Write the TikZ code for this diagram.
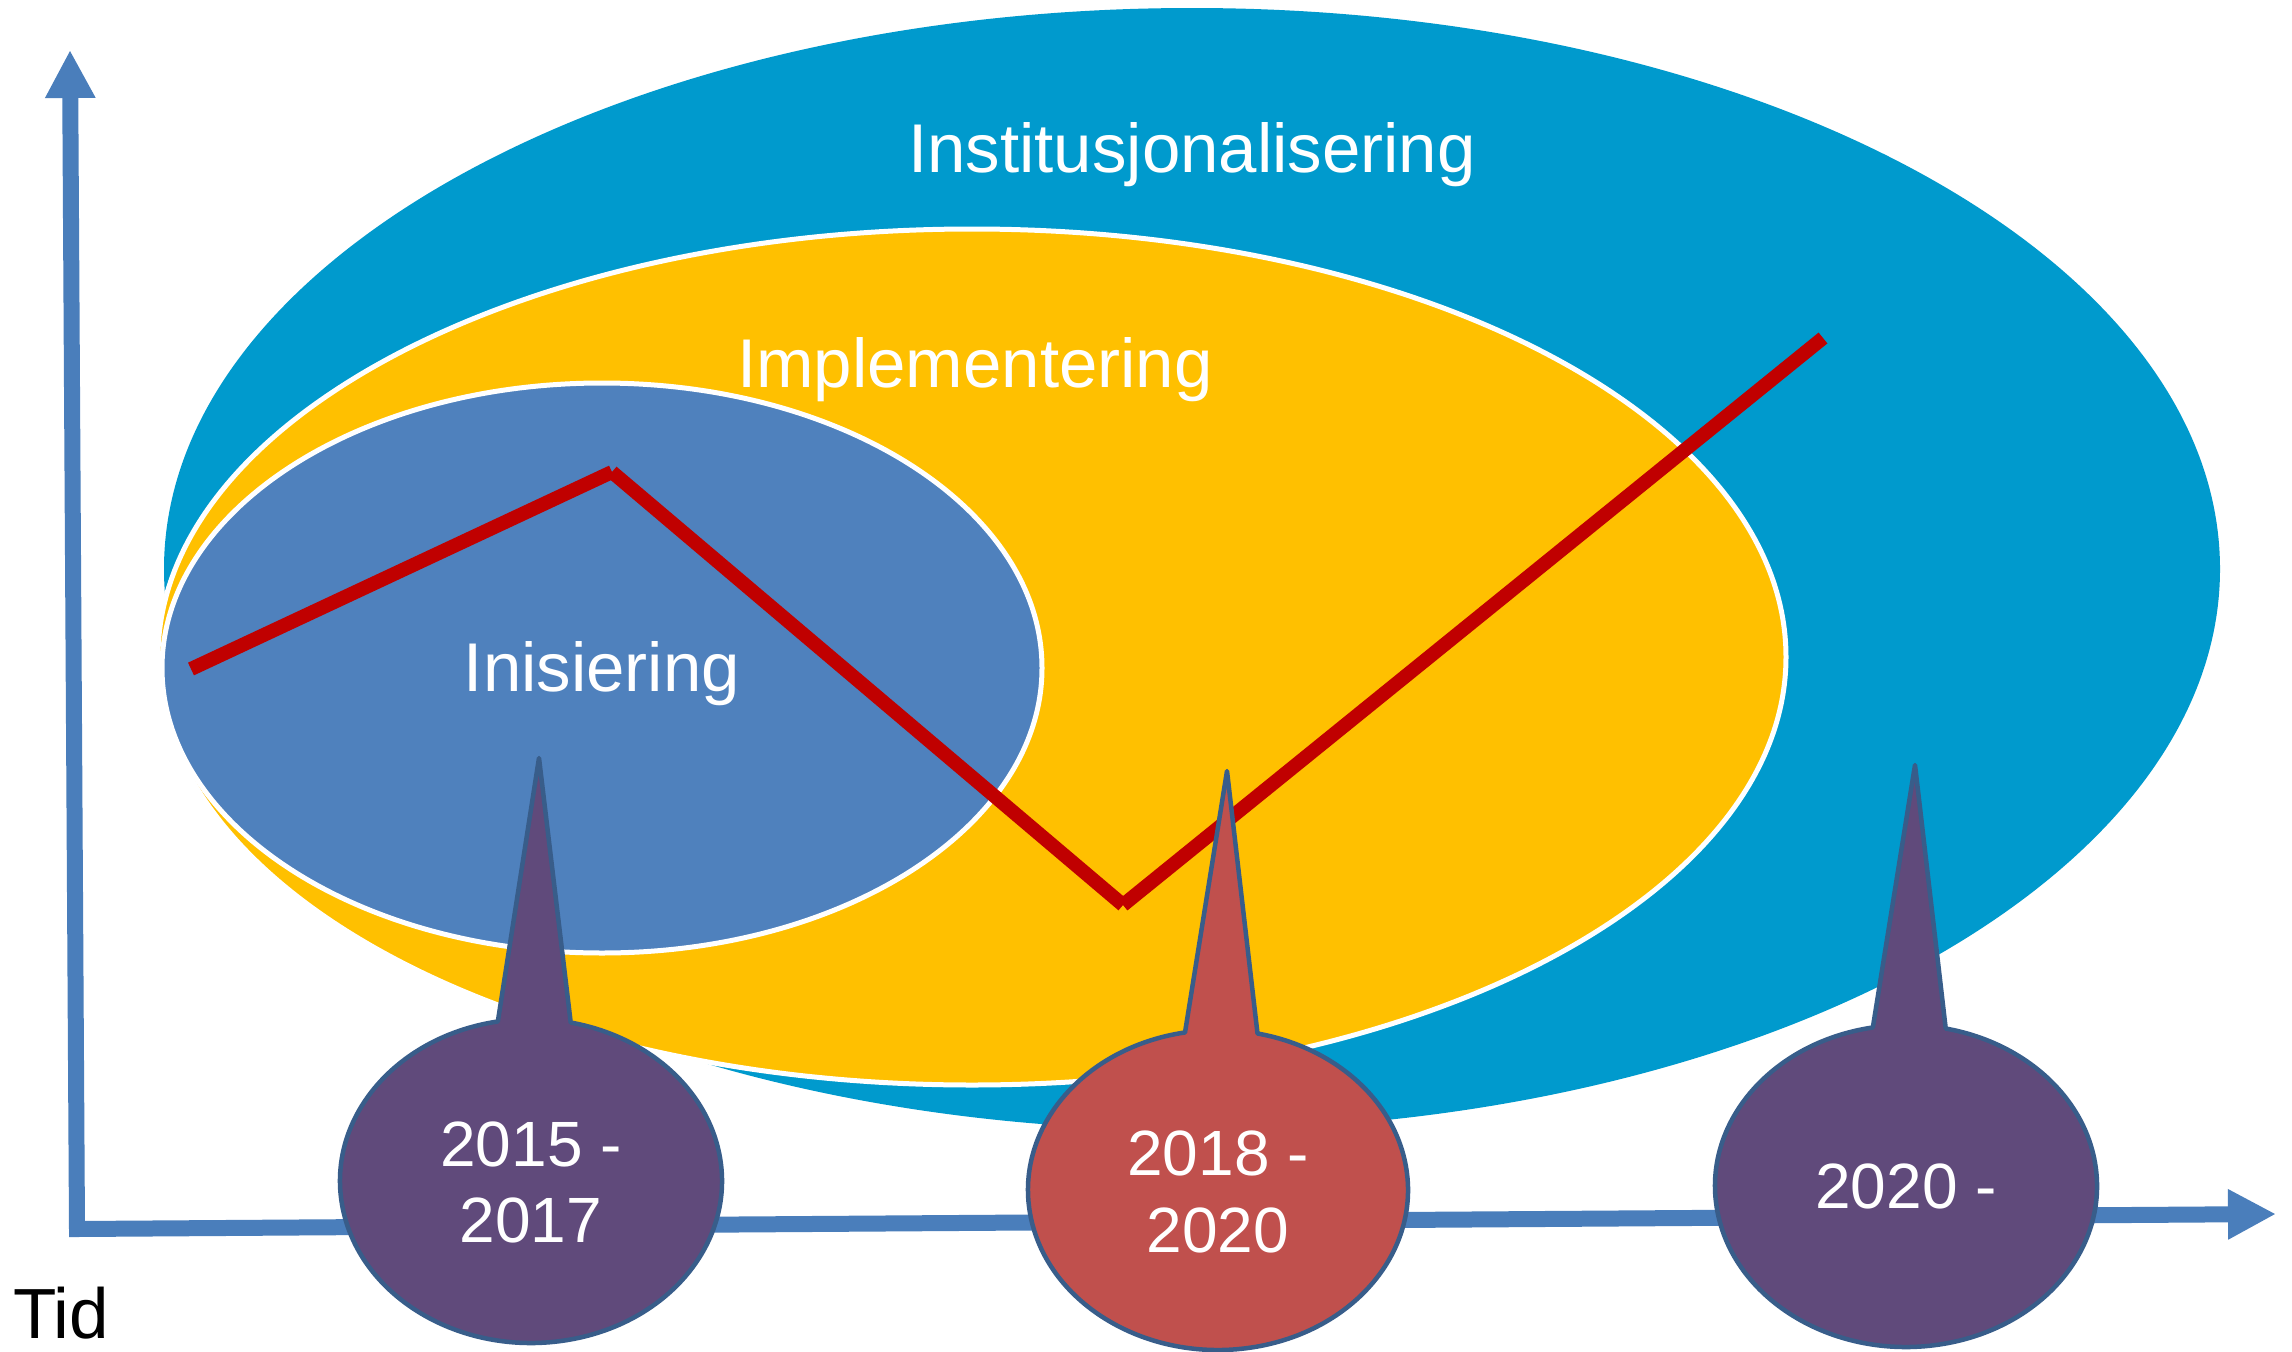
\documentclass[tikz,border=0pt]{standalone}
\usepackage{fontspec}
\setmainfont{Liberation Sans}
\usetikzlibrary{calc,arrows.meta}
\definecolor{instblue}{RGB}{0,154,205}
\definecolor{implyellow}{RGB}{255,192,0}
\definecolor{inisblue}{RGB}{79,129,189}
\definecolor{linered}{RGB}{192,0,0}
\definecolor{axisblue}{RGB}{74,126,187}
\definecolor{calpurple}{RGB}{96,74,123}
\definecolor{calred}{RGB}{192,80,77}
\definecolor{calborder}{RGB}{56,93,138}
\begin{document}
\begin{tikzpicture}[x=1pt,y=1pt,
  phase/.style={text=white,font=\fontsize{69}{80}\selectfont,anchor=base,inner sep=0pt},
  yeartext/.style={text=white,font=\fontsize{64}{76}\selectfont,anchor=base,inner sep=0pt},
  ringedge/.style={draw=white,line width=5pt},
  trend/.style={draw=linered,line width=14pt,line cap=butt},
  axisline/.style={draw=axisblue,line width=16pt,line join=miter,
    {Triangle[length=48pt,width=47pt]}-{Triangle[length=48pt,width=47pt]}},
  bubble/.style={draw=calborder,line width=4.5pt,line join=round}
]
\fill[white] (0,0) rectangle (2292,-1352);
\useasboundingbox (0,0) rectangle (2292,-1352);

% phase ellipses
\fill[instblue] (1192,-569) ellipse[x radius=1028, y radius=561];
\path[ringedge,fill=implyellow] (972,-657) ellipse[x radius=814, y radius=428];
\path[ringedge,fill=inisblue] (602,-668) ellipse[x radius=440, y radius=285];

% phase labels
\node[phase] (inst) at (1192,-172) {Institusjonalisering};
\node[phase] (impl) at (975,-387) {Implementering};
\node[phase] (inis) at (602,-691) {Inisiering};

% trend line
\coordinate (r1) at (191,-669);
\coordinate (r2) at (612,-472);
\coordinate (r3) at (1123,-905);
\coordinate (r4) at (1823,-338);
\draw[trend] (r1) -- (r2);
\draw[trend] (r2) -- (r3);
\draw[trend] (r3) -- (r4);

% axes
\coordinate (ytip) at (70,-50);
\coordinate (corner) at (77,-1229);
\coordinate (xtip) at (2276,-1214);
\draw[axisline] (ytip) -- (corner) -- (xtip);

% callouts
\coordinate (c1) at (531,-1181);
\coordinate (t1) at (539,-758);
\path[bubble,fill=calpurple] ($(c1)+(78:191 and 162)$) -- (t1) -- ($(c1)+(100:191 and 162)$)
  arc[start angle=100, end angle=438, x radius=191, y radius=162] -- cycle;

\coordinate (c2) at (1218,-1190);
\coordinate (t2) at (1227,-771);
\path[bubble,fill=calred] ($(c2)+(78:190 and 160)$) -- (t2) -- ($(c2)+(100:190 and 160)$)
  arc[start angle=100, end angle=438, x radius=190, y radius=160] -- cycle;

\coordinate (c3) at (1906,-1186);
\coordinate (t3) at (1915,-765);
\path[bubble,fill=calpurple] ($(c3)+(78:191 and 161)$) -- (t3) -- ($(c3)+(100:191 and 161)$)
  arc[start angle=100, end angle=438, x radius=191, y radius=161] -- cycle;

\node[yeartext] (y1a) at (531,-1166) {2015 -};
\node[yeartext] (y1b) at (531,-1242) {2017};
\node[yeartext] (y2a) at (1218,-1175) {2018 -};
\node[yeartext] (y2b) at (1218,-1252) {2020};
\node[yeartext] (y3a) at (1906,-1208) {2020 -};

\node[anchor=base west,inner sep=0pt,font=\fontsize{71}{84}\selectfont] (tid) at (13,-1338) {Tid};
\end{tikzpicture}
\end{document}
